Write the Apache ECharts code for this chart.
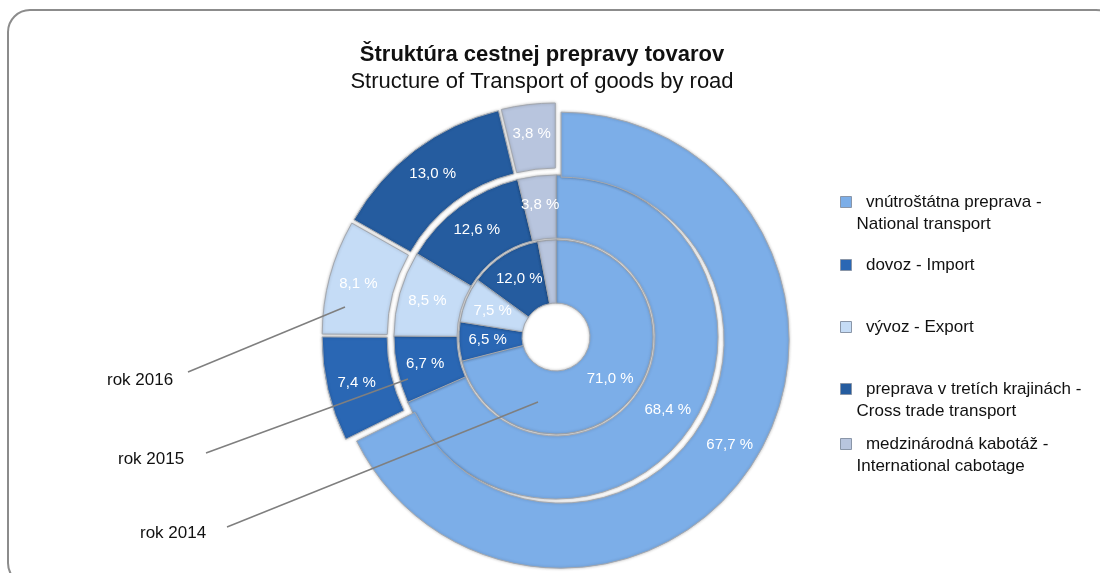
<!DOCTYPE html>
<html>
<head>
<meta charset="utf-8">
<script src="https://cdn.jsdelivr.net/npm/echarts@6/dist/echarts.min.js"></script>
<style>
  html, body { margin: 0; padding: 0; background: #fff; }
  #chart { width: 1100px; height: 573px; }
</style>
</head>
<body>
<div id="chart"></div>
<script>
// ── Data ─────────────────────────────────────────────────────────────────────
const CATEGORIES = [
  'vnútroštátna preprava - National transport',
  'dovoz - Import',
  'vývoz - Export',
  'preprava v tretích krajinách - Cross trade transport',
  'medzinárodná kabotáž - International cabotage'
];
const LEGEND_LINES = [
  ['vnútroštátna preprava -', 'National transport'],
  ['dovoz - Import'],
  ['vývoz - Export'],
  ['preprava v tretích krajinách -', 'Cross trade transport'],
  ['medzinárodná kabotáž -', 'International cabotage']
];
const YEARS = ['rok 2014', 'rok 2015', 'rok 2016'];
const SHARE_2014 = [71.0, 6.5, 7.5, 12.0, 3.0];
const SHARE_2015 = [68.4, 6.7, 8.5, 12.6, 3.8];
const SHARE_2016 = [67.7, 7.4, 8.1, 13.0, 3.8];

// ── Styling ──────────────────────────────────────────────────────────────────
const COLORS = ['#7caee8', '#2a67b4', '#c5dcf6', '#255c9f', '#b8c5de'];
const FONT = '"Liberation Sans", Arial, sans-serif';
const CENTER = [556, 337];
const RINGS = [[34, 97], [99, 162], [163, 228]];

const fmt = v => v.toFixed(1).replace('.', ',') + ' %';

function ring(name, values, radius, explode) {
  return {
    type: 'pie',
    name: name,
    center: CENTER,
    radius: radius,
    startAngle: 90,
    clockwise: true,
    avoidLabelOverlap: false,
    selectedMode: explode ? 'multiple' : false,
    selectedOffset: 6,
    emphasis: { disabled: true },
    animation: false,
    itemStyle: {
      borderColor: '#a3a8b0',
      borderWidth: 1,
      shadowColor: 'rgba(0,0,0,0.25)',
      shadowBlur: 3
    },
    label: {
      show: true,
      position: 'inside',
      color: '#ffffff',
      fontFamily: FONT,
      fontSize: 15,
      formatter: p => fmt(p.value)
    },
    labelLine: { show: false },
    data: values.map((v, i) => ({
      name: CATEGORIES[i],
      value: v,
      selected: !!explode,
      itemStyle: { color: COLORS[i] }
    }))
  };
}

// one legend block per entry so the uneven spacing of the original can be kept;
// two-line entries get an empty first line so the marker sits on the first text line
const LEGEND_Y = [202, 265, 327, 389, 444];
const legends = CATEGORIES.map((c, i) => {
  const two = LEGEND_LINES[i].length > 1;
  return {
    data: [c],
    orient: 'vertical',
    left: 840,
    top: LEGEND_Y[i] - (two ? 33 : 11),
    padding: 0,
    itemWidth: 11,
    itemHeight: 11,
    icon: 'rect',
    selectedMode: false,
    formatter: () => two
      ? ' \n  ' + LEGEND_LINES[i][0] + '\n' + LEGEND_LINES[i][1]
      : '  ' + LEGEND_LINES[i][0],
    textStyle: {
      fontFamily: FONT,
      fontSize: 17,
      color: '#111',
      lineHeight: 22
    },
    itemStyle: { borderColor: '#8a96a8', borderWidth: 1 }
  };
});

// leader lines for the ring names
const YEAR_LABELS = [
  { text: YEARS[2], x: 107, y: 380, from: [188, 372], to: [345, 307] },
  { text: YEARS[1], x: 118, y: 459, from: [206, 453], to: [408, 379] },
  { text: YEARS[0], x: 140, y: 533, from: [227, 527], to: [538, 402] }
];
const graphics = [
  {
    type: 'rect', z: -1,
    shape: { x: 8, y: 10, width: 1110, height: 575, r: 22 },
    style: { fill: 'none', stroke: '#8c8c8c', lineWidth: 2 }
  }
];
YEAR_LABELS.forEach(l => {
  graphics.push({
    type: 'line', z: 100,
    shape: { x1: l.from[0], y1: l.from[1], x2: l.to[0], y2: l.to[1] },
    style: { stroke: '#7f7f7f', lineWidth: 1.5 }
  });
  graphics.push({
    type: 'text', z: 100, x: l.x, y: l.y,
    style: { text: l.text, fill: '#111', font: '17px ' + FONT, verticalAlign: 'middle' }
  });
});

const chart = echarts.init(document.getElementById('chart'), null, { renderer: 'canvas' });
chart.setOption({
  backgroundColor: '#fff',
  animation: false,
  title: {
    text: 'Štruktúra cestnej prepravy tovarov',
    subtext: 'Structure of Transport of goods by road',
    left: 537,
    top: 39,
    textAlign: 'center',
    itemGap: 5,
    textStyle: { fontFamily: FONT, fontSize: 22, fontWeight: 'bold', color: '#111' },
    subtextStyle: { fontFamily: FONT, fontSize: 22, color: '#111' }
  },
  legend: legends,
  graphic: graphics,
  series: [
    ring(YEARS[0], SHARE_2014, RINGS[0], false),
    ring(YEARS[1], SHARE_2015, RINGS[1], false),
    ring(YEARS[2], SHARE_2016, RINGS[2], true)
  ]
});
</script>
</body>
</html>
